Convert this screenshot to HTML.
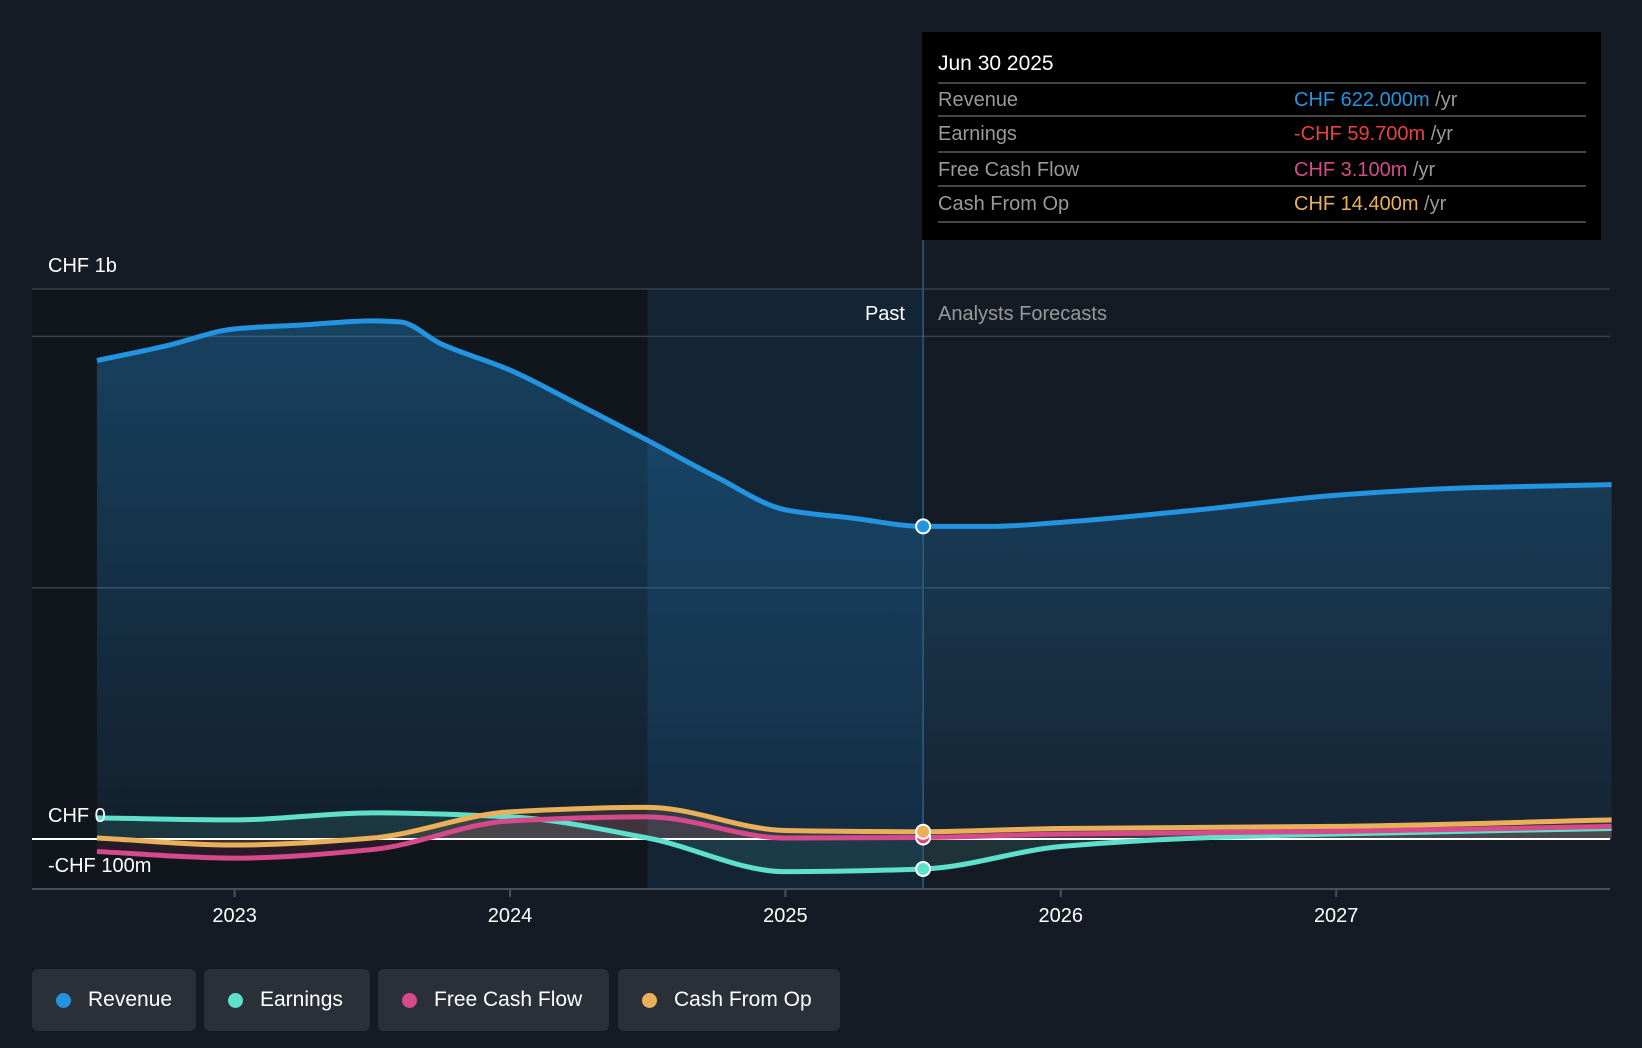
<!DOCTYPE html>
<html><head><meta charset="utf-8"><style>
body{margin:0;background:#151b24;font-family:"Liberation Sans",sans-serif;}
#wrap{position:relative;width:1642px;height:1048px;overflow:hidden;background:#151b24;}
svg{position:absolute;left:0;top:0;}
.tt{position:absolute;left:922px;top:32px;width:679px;height:208px;background:#000;}
.leg{position:absolute;top:969px;height:62px;background:#2a2f38;border-radius:6px;color:#fff;font-size:21px;line-height:62px;box-sizing:border-box;padding-left:56px;}
.leg i{position:absolute;left:24px;top:24px;width:15px;height:15px;border-radius:50%;}
</style></head><body>
<div id="wrap">
<svg id="chart" width="1642" height="1048"></svg>
<div class="tt">
<svg width="679" height="208">
<text x="16" y="38" fill="#fff" font-size="21" font-family="Liberation Sans">Jun 30 2025</text>
<line x1="16" x2="664" y1="51" y2="51" stroke="#444" stroke-width="2"/>
<line x1="16" x2="664" y1="84" y2="84" stroke="#444" stroke-width="2"/>
<line x1="16" x2="664" y1="120" y2="120" stroke="#444" stroke-width="2"/>
<line x1="16" x2="664" y1="154" y2="154" stroke="#444" stroke-width="2"/>
<line x1="16" x2="664" y1="190" y2="190" stroke="#444" stroke-width="2"/>
<g font-size="20" font-family="Liberation Sans" fill="#999">
<text x="16" y="74">Revenue</text><text x="16" y="108">Earnings</text><text x="16" y="144">Free Cash Flow</text><text x="16" y="178">Cash From Op</text>
<text x="372" y="74"><tspan fill="#2394df">CHF 622.000m</tspan> /yr</text>
<text x="372" y="108"><tspan fill="#e8413e">-CHF 59.700m</tspan> /yr</text>
<text x="372" y="144"><tspan fill="#d64a8c">CHF 3.100m</tspan> /yr</text>
<text x="372" y="178"><tspan fill="#e9b059">CHF 14.400m</tspan> /yr</text>
</g></svg></div>
<div class="leg" style="left:32px;width:164px"><i style="background:#2394df"></i>Revenue</div>
<div class="leg" style="left:204px;width:166px"><i style="background:#5fe0cd"></i>Earnings</div>
<div class="leg" style="left:378px;width:231px"><i style="background:#d64a8c"></i>Free Cash Flow</div>
<div class="leg" style="left:618px;width:222px"><i style="background:#e9b059"></i>Cash From Op</div>
</div>
<script>
const revT=[2022.5,2022.75,2023.0,2023.25,2023.5,2023.6,2023.75,2024.0,2024.25,2024.5,2024.75,2025.0,2025.25,2025.5,2025.75,2026.0,2026.5,2027.0,2027.5,2028.0];
const revV=[952,981,1015,1023,1031,1029,985,933,864,793,720,655,638,622,622,630,655,684,699,705];
const earnT=[2022.5,2023.0,2023.5,2024.0,2024.5,2025.0,2025.5,2026.0,2026.5,2027.0,2028.0];
const earnV=[42,38,52,44,2,-65,-59.7,-15,2,10,21];
const fcfT=[2022.5,2023.0,2023.5,2024.0,2024.5,2025.0,2025.5,2026.0,2027.0,2028.0];
const fcfV=[-25,-38,-21,36,44,2,3.1,10,15,25];
const cfoT=[2022.5,2023.0,2023.5,2024.0,2024.5,2025.0,2025.5,2026.0,2027.0,2028.0];
const cfoV=[2,-12,2,54,63,17,14.4,21,25,38];
const yearTicks=[2023,2024,2025,2026,2027];
const NS='http://www.w3.org/2000/svg';
const svg=document.getElementById('chart');
const X=t=>234.6+(t-2023)*275.4;
const Y=v=>839-v*0.5026;
function el(tag,attrs,parent){const e=document.createElementNS(NS,tag);for(const k in attrs)e.setAttribute(k,attrs[k]);(parent||svg).appendChild(e);return e;}
function path(ts,vs){const p=ts.map((t,i)=>[X(t),Y(vs[i])]);const n=p.length;
const d=[],m=[];for(let i=0;i<n-1;i++)d.push((p[i+1][1]-p[i][1])/(p[i+1][0]-p[i][0]));
for(let i=0;i<n;i++){if(i===0)m.push(d[0]);else if(i===n-1)m.push(d[n-2]);else if(d[i-1]*d[i]<=0)m.push(0);else{const h0=p[i][0]-p[i-1][0],h1=p[i+1][0]-p[i][0];m.push(3*(h0+h1)/((2*h1+h0)/d[i-1]+(h1+2*h0)/d[i]));}}
let s='M'+p[0][0]+','+p[0][1];
for(let i=0;i<n-1;i++){const h=(p[i+1][0]-p[i][0])/3;s+=` C${p[i][0]+h},${p[i][1]+m[i]*h} ${p[i+1][0]-h},${p[i+1][1]-m[i+1]*h} ${p[i+1][0]},${p[i+1][1]}`;}return s;}
const defs=el('defs',{});
const g=el('linearGradient',{id:'rg',x1:0,y1:0,x2:0,y2:1},defs);
el('stop',{offset:0,'stop-color':'#2394df','stop-opacity':0.35},g);el('stop',{offset:1,'stop-color':'#2394df','stop-opacity':0.08},g);
let r=el('rect',{x:32,y:289,width:X(2024.5)-32,height:600,fill:'#11151c'});

r=el('rect',{x:X(2024.5),y:289,width:X(2025.5)-X(2024.5),height:600,fill:'#132435'});

[289,Y(1000),Y(500)].forEach(y=>{const l=el('line',{x1:32,x2:1610,y1:y,y2:y,stroke:'#3a404a','stroke-width':1.5});});
const rp=path(revT,revV);
let a=el('path',{d:rp+` L${X(2028)},${Y(0)} L${X(2022.5)},${Y(0)} Z`,fill:'url(#rg)'});

const series=[[earnT,earnV,'#5fe0cd','earnings'],[fcfT,fcfV,'#d64a8c','free-cash-flow'],[cfoT,cfoV,'#e9b059','cash-from-op']];
series.forEach(s=>{const p=path(s[0],s[1]);const f=el('path',{d:p+` L${X(s[0][s[0].length-1])},${Y(0)} L${X(s[0][0])},${Y(0)} Z`,fill:s[2],'fill-opacity':0.12});
});
let z=el('line',{x1:32,x2:1610,y1:Y(0),y2:Y(0),stroke:'#fff','stroke-width':2});
let bl=el('line',{x1:32,x2:1610,y1:889,y2:889,stroke:'#4a505a','stroke-width':2});
let rl=el('path',{d:rp,fill:'none',stroke:'#2394df','stroke-width':5});
series.forEach(s=>{const l=el('path',{d:path(s[0],s[1]),fill:'none',stroke:s[2],'stroke-width':5});});
let vl=el('line',{x1:X(2025.5),x2:X(2025.5),y1:240,y2:889,stroke:'#2a5f86','stroke-width':1.5});
[[revT,revV,'#2394df','revenue'],[fcfT,fcfV,'#d64a8c','fcf'],[earnT,earnV,'#5fe0cd','earnings'],[cfoT,cfoV,'#e9b059','cfo']].forEach(s=>{const i=s[0].indexOf(2025.5);
const c=el('circle',{cx:X(2025.5),cy:Y(s[1][i]),r:7,fill:s[2],stroke:'#fff','stroke-width':2});});
yearTicks.forEach(yr=>{const t=el('line',{x1:X(yr),x2:X(yr),y1:889,y2:897,stroke:'#4a505a','stroke-width':2});
const tx=el('text',{x:X(yr),y:922,fill:'#fff','font-size':20,'text-anchor':'middle','font-family':'Liberation Sans'});tx.textContent=yr;});
function txt(x,y,s,fill,name,anchor){const t=el('text',{x:x,y:y,fill:fill,'font-size':20,'font-family':'Liberation Sans','text-anchor':anchor||'start'});t.textContent=s;}
txt(48,272,'CHF 1b','#fff','y-label-1b');
txt(48,822,'CHF 0','#fff','y-label-0');
txt(48,872,'-CHF 100m','#fff','y-label-minus-100m');
txt(905,320,'Past','#fff','past-label','end');
txt(938,320,'Analysts Forecasts','#999','forecast-label');
</script>
</body></html>
